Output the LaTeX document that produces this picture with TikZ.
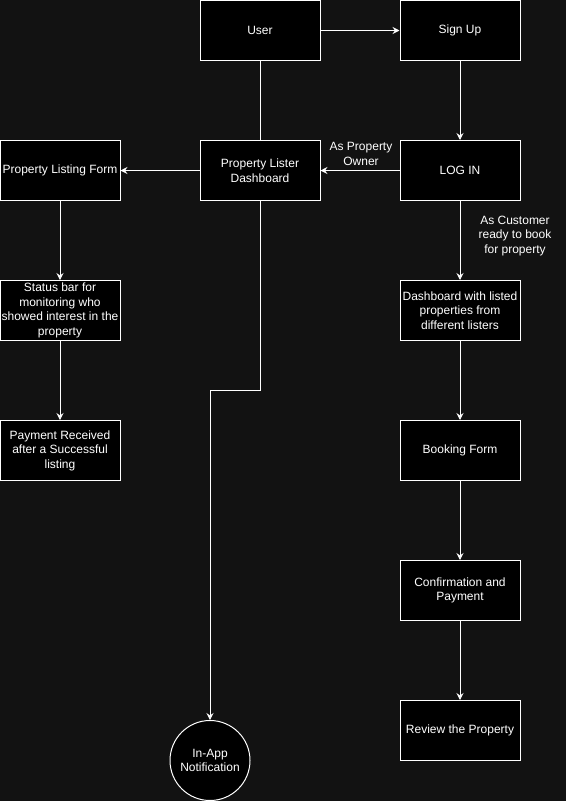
\documentclass[tikz,border=0pt]{standalone}
\usepackage{fontspec}
\setmainfont{Liberation Sans}
\usetikzlibrary{arrows.meta}
\definecolor{canvas}{RGB}{18,18,18}
\begin{document}
\begin{tikzpicture}[x=1pt,y=-1pt,
  every node/.style={font=\fontsize{12}{14.5}\selectfont, text=white},
  box/.style={draw=white, fill=black, line width=1pt, minimum width=120pt, minimum height=60pt,
    inner sep=0.5pt, align=center},
  roundnode/.style={draw=white, fill=black, line width=1pt, circle, minimum size=80pt,
    inner sep=0pt, align=center},
  flow/.style={draw=white, line width=1pt, -{Stealth[length=7pt,width=7pt,inset=2.5pt]}},
  link/.style={draw=white, line width=1pt},
  tag/.style={align=center, inner sep=0pt}
]
\fill[canvas] (0,0) rectangle (566,801);
\useasboundingbox (0,0) rectangle (566,801);

% boxes
\node[box] (user)   at (260,30.5)  {User};
\node[box] (signup) at (460,30.5)  {Sign Up};
\node[box] (login)  at (460,170.5) {LOG IN};
\node[box] (pld)    at (260,170.5) {Property Lister\\Dashboard};
\node[box] (plf)    at (60,170.5)  {Property Listing Form};
\node[box] (status) at (60,310.5)  {Status bar for\\monitoring who\\showed interest in the\\property};
\node[box] (paid)   at (60,450.5)  {Payment Received\\after a Successful\\listing};
\node[box] (dash)   at (460,310.5) {Dashboard with listed\\properties from\\different listers};
\node[box] (book)   at (460,450.5) {Booking Form};
\node[box] (confirm) at (460,590.5) {Confirmation and\\Payment};
\node[box] (review) at (460,730.5) {Review the Property};
\node[roundnode] (notify) at (210,760.5) {In-App\\Notification};

% connectors
\draw[flow] (user) -- (signup);
\draw[flow] (signup) -- (login);
\draw[link] (user) -- (pld);
\draw[flow] (login) -- (pld);
\draw[flow] (pld) -- (plf);
\draw[flow] (plf) -- (status);
\draw[flow] (status) -- (paid);
\draw[flow] (pld.south) -- (260,390) -- (210,390) -- (notify.north);
\draw[flow] (login) -- (dash);
\draw[flow] (dash) -- (book);
\draw[flow] (book) -- (confirm);
\draw[flow] (confirm) -- (review);

% edge labels
\node[tag] (ownerlbl) at (361,154) {As Property\\Owner};
\node[tag] (custlbl) at (515,236) {As Customer\\ready to book\\for property};
\end{tikzpicture}
\end{document}
